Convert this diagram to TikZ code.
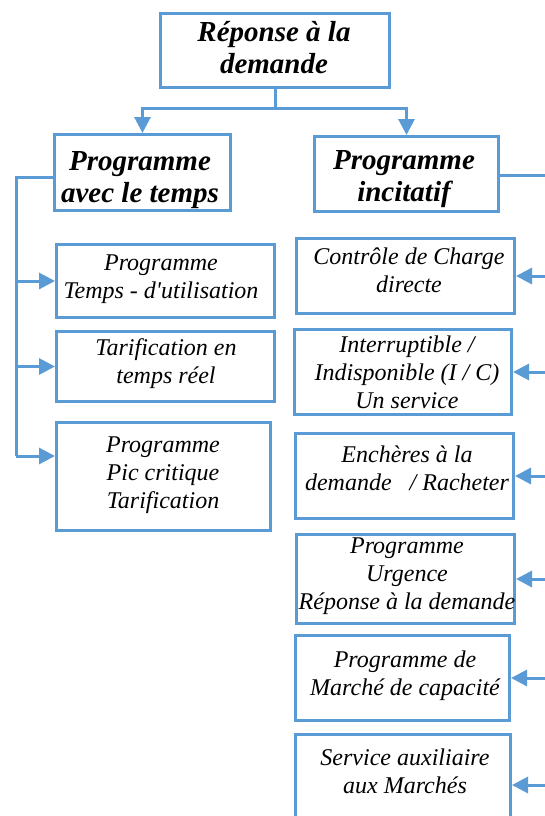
\documentclass[tikz,border=0pt]{standalone}
\usepackage{fontspec}
% plain family without TeX ligature mapping, so ' stays a straight apostrophe
\newfontfamily\boxfont{Liberation Serif}
\usetikzlibrary{arrows.meta}
\definecolor{linkblue}{HTML}{5B9BD5}
\tikzset{
  box/.style={draw=linkblue, line width=3pt, inner sep=0pt},
  lbl/.style={align=center, inner sep=0pt, font=\boxfont\itshape\fontsize{24}{28}\selectfont},
  head/.style={align=center, inner sep=0pt, font=\boxfont\bfseries\itshape\fontsize{29}{32}\selectfont},
  wire/.style={draw=linkblue, line width=3pt},
  arr/.style={wire, -{Triangle[length=16pt,width=16pt]}},
}
\begin{document}
\begin{tikzpicture}[x=1pt,y=-1pt]
\useasboundingbox (0,0) rectangle (544,816);
\fill[white] (0,0) rectangle (544,816);

% boxes
\node[box, minimum width=229pt, minimum height=74pt] (top) at (275,50.5) {};
\node[box, minimum width=176pt, minimum height=76pt] (L2) at (142.5,172.5) {};
\node[box, minimum width=184pt, minimum height=75pt] (R2) at (406.5,174) {};

\node[box, minimum width=218pt, minimum height=73pt] (La) at (165.5,281) {};
\node[box, minimum width=218pt, minimum height=70pt] (Lb) at (165.5,366.5) {};
\node[box, minimum width=214pt, minimum height=108pt] (Lc) at (163.5,476.5) {};

\node[box, minimum width=218pt, minimum height=75pt] (RC) at (405.5,276) {};
\node[box, minimum width=217pt, minimum height=85pt] (RI) at (403,372) {};
\node[box, minimum width=218pt, minimum height=85pt] (RE) at (404.5,476) {};
\node[box, minimum width=218pt, minimum height=89pt] (RU) at (405.5,579) {};
\node[box, minimum width=214pt, minimum height=85pt] (RM) at (402.5,678) {};
\node[box, minimum width=215pt, minimum height=101pt] (RS) at (403,785) {};

% texts
\node[head] (tTop) at (274,51.5) {\strut Réponse à la\\\strut demande};
\node[head] (tL2) at (140,180) {\strut Programme\\\strut avec le temps};
\node[head] (tR2) at (404,179) {\strut Programme\\\strut incitatif};

\node[lbl] (tLa) at (161,279) {\strut Programme\\\strut Temps - d'utilisation};
\node[lbl] (tLb) at (166,364) {\strut Tarification en\\\strut temps réel};
\node[lbl] (tLc) at (163,475) {\strut Programme\\\strut Pic critique\\\strut Tarification};

\node[lbl] (tRC) at (409,273) {\strut Contrôle de Charge\\\strut directe};
\node[lbl] (tRI) at (407,375) {\strut Interruptible /\\\strut Indisponible (I / C)\\\strut Un service};
\node[lbl] (tRE) at (407,471) {\strut Enchères à la\\\strut demande~~ / Racheter};
\node[lbl] (tRU) at (407,576) {\strut Programme\\\strut Urgence\\\strut Réponse à la demande};
\node[lbl] (tRM) at (405,676) {\strut Programme de\\\strut Marché de capacité};
\node[lbl] (tRS) at (405,774) {\strut Service auxiliaire\\\strut aux Marchés};

% top split
\coordinate (split) at (275,108);
\draw[wire] (top.south) -- (split);
\draw[arr] (split) -| (L2.north);
\draw[arr] (split) -| (R2.north);

% left bus
\coordinate (lb0) at (16,177);
\coordinate (lbc) at (16,456);
\draw[wire] (L2.west |- lb0) -- (lb0) -- (lbc);
\draw[arr] (lb0 |- La.west) -- (La.west);
\draw[arr] (lb0 |- Lb.west) -- (Lb.west);
\draw[arr] (lbc) -- (Lc.west |- lbc);

% right bus
\coordinate (rb0) at (562,175);
\coordinate (rb1) at (562,840);
\draw[wire] (R2.east |- rb0) -- (rb0) -- (rb1);
\foreach \b in {RC,RI,RE,RU,RM,RS}
  \draw[arr] (rb0 |- \b.east) -- (\b.east);
\end{tikzpicture}
\end{document}
